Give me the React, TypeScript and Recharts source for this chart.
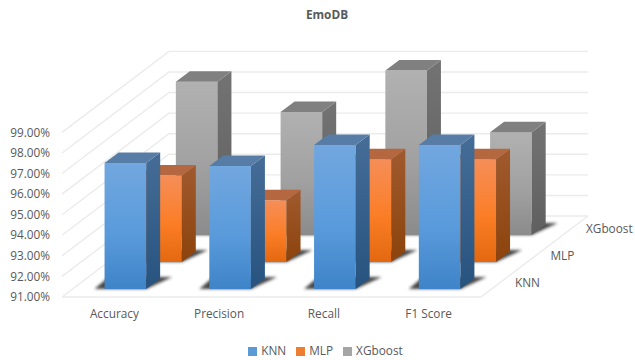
import { BarChart, Bar, XAxis, YAxis, CartesianGrid, Legend, ReferenceLine } from 'recharts'

const categories = ['Accuracy', 'Precision', 'Recall', 'F1 Score']
const knnValues = [97.13, 96.98, 98, 98]
const mlpValues = [95.2, 94, 96, 96]
const xgboostValues = [98.45, 96.98, 98.99, 96]
const valueTicks = [91, 92, 93, 94, 95, 96, 97, 98, 99]
const seriesNames = ['KNN', 'MLP', 'XGboost']

const chartData = categories.map((name, i) => ({
  name,
  KNN: knnValues[i],
  MLP: mlpValues[i],
  XGboost: xgboostValues[i],
}))

const FONT = '"Open Sans", sans-serif'
const FONT_SIZE = 11.8
const TEXT = '#595959'
const WALL = '#ebebeb'
const BAR_WIDTH = 41.6

// oblique projection: how far the chart box recedes, and where each row of bars sits in it
const BOX_DX = 107
const BOX_DY = -81
const rowShift = (row: number) => {
  const dy = -(8 + 27 * row)
  return { dx: dy * -1.32, dy }
}

const SIDE_DX = 14
const SIDE_DY = -10.5

type Tone = { id: string; top: string; side0: string; side1: string; face: string[] }

const TONES: Tone[] = [
  { id: 'knn', top: '#577ca6', side0: '#456d97', side1: '#27537f', face: ['#72a7df', '#5a9bdc', '#3f84c8'] },
  { id: 'mlp', top: '#b5683f', side0: '#a05a2e', side1: '#8c430c', face: ['#f58e58', '#fb7e27', '#e3680f'] },
  { id: 'xgb', top: '#808080', side0: '#737373', side1: '#5f5f5f', face: ['#b1b1b1', '#a1a1a1', '#8b8b8b'] },
]

function Prism(props: any) {
  const { x, y, width, height, row } = props
  const { dx, dy } = rowShift(row)
  const tone = TONES[row]
  const l = x + dx
  const r = l + width
  const t = y + dy
  const b = t + height
  return (
    <g>
      <polygon
        points={`${l - 10},${b} ${r},${b} ${r + 26},${b - 12} ${l + 4},${b - 12}`}
        fill="#262626"
        opacity={0.85}
        filter="url(#floorShadow)"
      />
      <rect x={l} y={t} width={width} height={height} fill={`url(#${tone.id}Face)`} />
      <polygon
        points={`${r},${t} ${r + SIDE_DX},${t + SIDE_DY} ${r + SIDE_DX},${b + SIDE_DY} ${r},${b}`}
        fill={`url(#${tone.id}Side)`}
      />
      <polygon
        points={`${l},${t} ${l + SIDE_DX},${t + SIDE_DY} ${r + SIDE_DX},${t + SIDE_DY} ${r},${t}`}
        fill={tone.top}
      />
    </g>
  )
}

// one gridline per tick, running along the side wall and then across the back wall
function WallLine(props: any) {
  const { x1, y1, x2, y2 } = props
  return (
    <polyline
      points={`${x1},${y1} ${x1 + BOX_DX},${y1 + BOX_DY} ${x2 + BOX_DX},${y2 + BOX_DY}`}
      fill="none"
      stroke={WALL}
      strokeWidth={1.4}
    />
  )
}

// floor edges, with the row names set along the right one
function FloorEdge(props: any) {
  const { x1, y1, x2, y2 } = props
  return (
    <g>
      <line x1={x1} y1={y1} x2={x2} y2={y2} stroke={WALL} strokeWidth={1.4} />
      <line x1={x2} y1={y2} x2={x2 + BOX_DX} y2={y2 + BOX_DY} stroke={WALL} strokeWidth={1.4} />
      {seriesNames.map((name, row) => (
        <text
          key={name}
          x={x2 + 34 + 35.5 * row}
          y={y2 - 13 - 27 * row}
          fontFamily={FONT}
          fontSize={FONT_SIZE}
          fill={TEXT}
          dominantBaseline="middle"
        >
          {name}
        </text>
      ))}
    </g>
  )
}

export default function App() {
  return (
    <div style={{ position: 'absolute', left: 0, top: 0, width: 635, height: 360, background: '#fff' }}>
      <BarChart
        width={635}
        height={360}
        data={chartData}
        margin={{ top: 132.4, right: 154, bottom: 17, left: 0 }}
        barSize={BAR_WIDTH}
        barGap={-BAR_WIDTH}
        barCategoryGap={0}
      >
        <defs>
          <filter id="floorShadow" x="-30%" y="-60%" width="160%" height="220%">
            <feGaussianBlur stdDeviation="1.8" />
          </filter>
          {TONES.map((tone) => (
            <linearGradient key={tone.id} id={`${tone.id}Face`} x1="0" y1="0" x2="0" y2="1">
              <stop offset="0" stopColor={tone.face[0]} />
              <stop offset="0.55" stopColor={tone.face[1]} />
              <stop offset="1" stopColor={tone.face[2]} />
            </linearGradient>
          ))}
          {TONES.map((tone) => (
            <linearGradient key={tone.id} id={`${tone.id}Side`} x1="0" y1="0" x2="0" y2="1">
              <stop offset="0" stopColor={tone.side0} />
              <stop offset="1" stopColor={tone.side1} />
            </linearGradient>
          ))}
        </defs>
        <text
          x={327}
          y={16}
          textAnchor="middle"
          dominantBaseline="middle"
          fontFamily={FONT}
          fontSize={FONT_SIZE}
          fontWeight={700}
          fill={TEXT}
        >
          EmoDB
        </text>
        <CartesianGrid vertical={false} horizontal={(p: any) => <WallLine key={p.key} {...p} />} />
        <XAxis
          dataKey="name"
          height={30}
          axisLine={false}
          tickLine={false}
          tick={{ fontFamily: FONT, fontSize: FONT_SIZE, fill: TEXT }}
          tickMargin={7}
          interval={0}
        />
        <YAxis
          width={62}
          domain={[91, 99]}
          ticks={valueTicks}
          interval={0}
          axisLine={false}
          tickLine={false}
          tick={{ fontFamily: FONT, fontSize: FONT_SIZE, fill: TEXT }}
          tickMargin={6}
          tickFormatter={(v: number) => `${v.toFixed(2)}%`}
        />
        <Legend
          iconType="square"
          iconSize={9}
          wrapperStyle={{ fontFamily: FONT, fontSize: FONT_SIZE, left: 0, width: 661, bottom: 2 }}
          formatter={(value: string) => <span style={{ color: TEXT }}>{value}</span>}
        />
        <ReferenceLine y={91} shape={(p: any) => <FloorEdge {...p} />} />
        <Bar dataKey="XGboost" fill="#a5a5a5" legendType="square" isAnimationActive={false} shape={(p: any) => <Prism {...p} row={2} />} />
        <Bar dataKey="MLP" fill="#ed7d31" legendType="square" isAnimationActive={false} shape={(p: any) => <Prism {...p} row={1} />} />
        <Bar dataKey="KNN" fill="#5b9bd5" legendType="square" isAnimationActive={false} shape={(p: any) => <Prism {...p} row={0} />} />
      </BarChart>
    </div>
  )
}
